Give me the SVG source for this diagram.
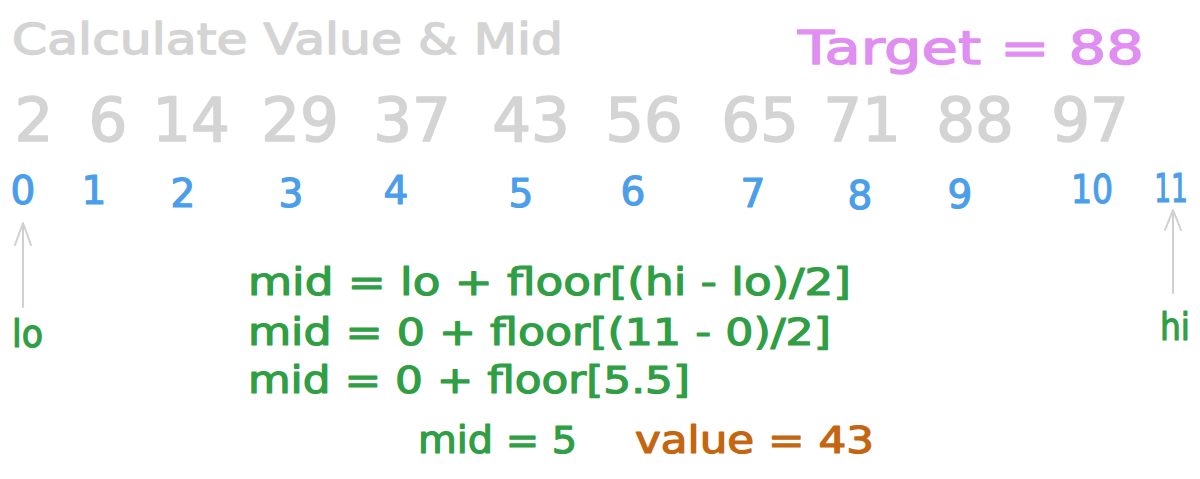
<svg xmlns="http://www.w3.org/2000/svg" width="1200" height="479" viewBox="0 0 1200 479">
<style>
text{font-family:"DejaVu Sans","Liberation Sans",sans-serif;stroke-linejoin:round;}
.title{fill:#d4d4d4;stroke:#d4d4d4;stroke-width:1.4px;font-size:43px;}
.num{fill:#d4d4d4;stroke:#d4d4d4;stroke-width:1.6px;font-size:61px;text-anchor:middle;}
.idx{fill:#4a9eea;stroke:#4a9eea;stroke-width:1.2px;font-size:39px;text-anchor:middle;}
.green{fill:#2f9e44;stroke:#2f9e44;stroke-width:1.2px;font-size:37px;}
.orange{fill:#c4650f;stroke:#c4650f;stroke-width:1.2px;font-size:37px;}
.pink{fill:#e08ef2;stroke:#e08ef2;stroke-width:1.4px;font-size:47px;}
.conn{stroke:#d0d0d0;stroke-width:2;fill:none;stroke-linecap:round;stroke-linejoin:round;}
</style>
<rect width="1200" height="479" fill="#ffffff"/>
<g id="title"><text class="title" x="12" y="54" textLength="551" lengthAdjust="spacingAndGlyphs">Calculate Value &amp; Mid</text></g>
<g id="target"><text class="pink" x="798" y="64" textLength="346" lengthAdjust="spacingAndGlyphs">Target = 88</text></g>
<g id="values">
<text class="num" x="34" y="141">2</text>
<text class="num" x="108" y="141">6</text>
<text class="num" x="191" y="141">14</text>
<text class="num" x="300" y="141">29</text>
<text class="num" x="412" y="141">37</text>
<text class="num" x="531" y="141">43</text>
<text class="num" x="644" y="141">56</text>
<text class="num" x="760" y="141">65</text>
<text class="num" x="862" y="141">71</text>
<text class="num" x="975" y="141">88</text>
<text class="num" x="1090" y="141">97</text>
</g>
<g id="indices">
<text class="idx" x="23" y="204">0</text>
<text class="idx" x="94" y="204">1</text>
<text class="idx" x="183" y="207">2</text>
<text class="idx" x="291" y="207">3</text>
<text class="idx" x="396" y="204">4</text>
<text class="idx" x="521" y="207">5</text>
<text class="idx" x="633" y="205">6</text>
<text class="idx" x="753" y="207">7</text>
<text class="idx" x="860" y="209">8</text>
<text class="idx" x="960" y="208">9</text>
<text class="idx" transform="translate(1092,203) scale(0.85,1)">10</text>
<text class="idx" transform="translate(1171,202) scale(0.68,1)">11</text>
</g>
<g id="connectors">
<path class="conn" d="M23 307 L23 223 M15 245 L23 223 L31 245"/>
<path class="conn" d="M1173 293 L1173 210 M1165 230 L1173 210 L1181 230"/>
</g>
<g id="lo"><text class="green" x="12" y="347" textLength="31" lengthAdjust="spacingAndGlyphs">lo</text></g>
<g id="hi"><text class="green" x="1160" y="340" textLength="30" lengthAdjust="spacingAndGlyphs">hi</text></g>
<g id="formula">
<text class="green" x="248" y="295" textLength="603" lengthAdjust="spacingAndGlyphs">mid = lo + floor[(hi - lo)/2]</text>
<text class="green" x="248" y="345" textLength="583" lengthAdjust="spacingAndGlyphs">mid = 0 + floor[(11 - 0)/2]</text>
<text class="green" x="248" y="393" textLength="442" lengthAdjust="spacingAndGlyphs">mid = 0 + floor[5.5]</text>
</g>
<g id="result">
<text class="green" x="418" y="453" textLength="159" lengthAdjust="spacingAndGlyphs">mid = 5</text>
<text class="orange" x="635" y="453" textLength="239" lengthAdjust="spacingAndGlyphs">value = 43</text>
</g>
</svg>
